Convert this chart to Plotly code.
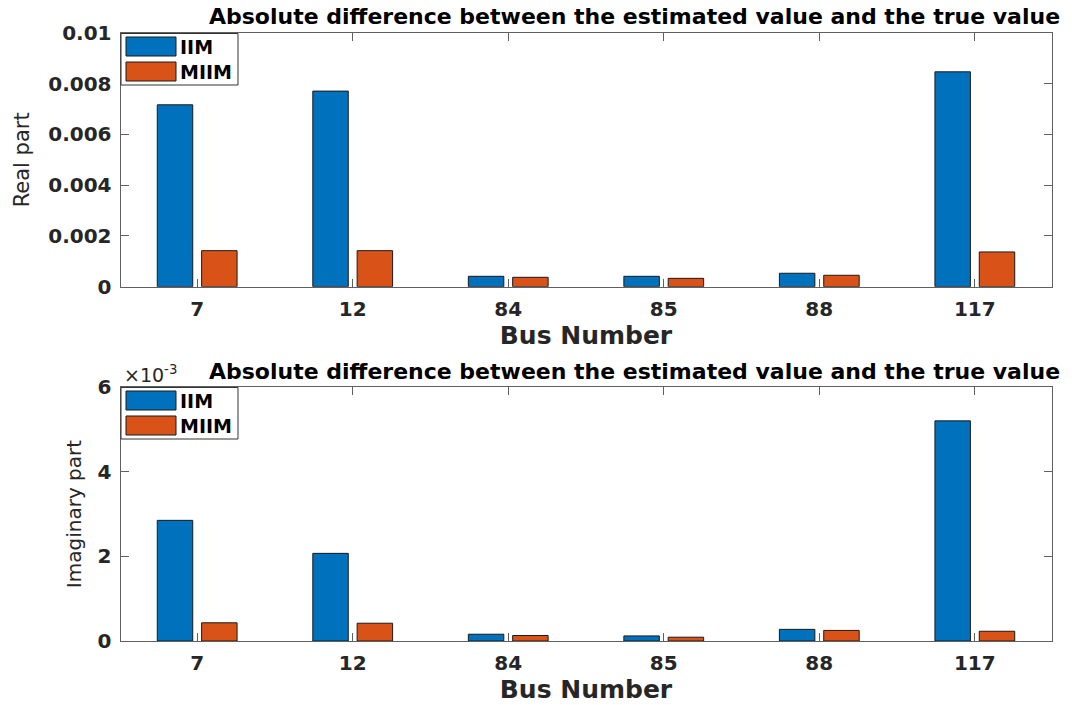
import plotly.graph_objects as go

# Bus numbers and absolute estimation errors
buses = ["7", "12", "84", "85", "88", "117"]
real_iim = [0.00717, 0.00771, 0.00041, 0.00041, 0.00053, 0.00847]
real_miim = [0.00142, 0.00142, 0.00037, 0.00033, 0.00045, 0.00137]
imag_iim = [2.85, 2.07, 0.16, 0.12, 0.275, 5.20]      # x 1e-3
imag_miim = [0.43, 0.42, 0.13, 0.09, 0.25, 0.23]      # x 1e-3

series_names = ["IIM", "MIIM"]
colors = ["#0072BD", "#D95319"]
title_text = "Absolute difference between the estimated value and the true value"

W, H = 1072, 705
FONT = "DejaVu Sans, Liberation Sans, sans-serif"
AX = "#606060"


def px(x):
    return x / W


def py(y):
    return 1 - y / H


fig = go.Figure()
for vals, name, col in zip([real_iim, real_miim], series_names, colors):
    fig.add_trace(go.Bar(x=buses, y=vals, name=name, marker_color=col,
                         marker_line_color="#1a1a1a", marker_line_width=1,
                         xaxis="x", yaxis="y", showlegend=False))
for vals, name, col in zip([imag_iim, imag_miim], series_names, colors):
    fig.add_trace(go.Bar(x=buses, y=vals, name=name, marker_color=col,
                         marker_line_color="#1a1a1a", marker_line_width=1,
                         xaxis="x2", yaxis="y2", showlegend=False))

xdom = [px(120.5), px(1051.5)]
xrange = [-0.493, 5.493]
axis_common = dict(showline=True, linecolor=AX, linewidth=1, mirror="ticks",
                   ticks="inside", ticklen=8, tickcolor=AX, showgrid=False,
                   zeroline=False, automargin=False,
                   tickfont=dict(family=FONT, size=20, color="#262626", weight="bold"))

xtitle = dict(text="<b>Bus Number</b>", font=dict(family=FONT, size=25, color="#262626"),
              standoff=2)

fig.update_layout(
    width=W, height=H,
    margin=dict(l=0, r=0, t=0, b=0),
    paper_bgcolor="white", plot_bgcolor="white",
    barmode="group", bargap=0.43, bargroupgap=0.2,
    font=dict(family=FONT, color="#262626"),
    xaxis=dict(domain=xdom, anchor="y", type="category", range=xrange,
               ticklabelstandoff=4, title=xtitle, **axis_common),
    yaxis=dict(domain=[py(286.7), py(33)], anchor="x", range=[0, 0.01],
               tickvals=[0, 0.002, 0.004, 0.006, 0.008, 0.01],
               ticktext=["0", "0.002", "0.004", "0.006", "0.008", "0.01"],
               ticklabelstandoff=4,
               title=dict(text="Real part", font=dict(family=FONT, size=21, color="#262626"),
                          standoff=12),
               **axis_common),
    xaxis2=dict(domain=xdom, anchor="y2", type="category", range=xrange,
                ticklabelstandoff=4, title=xtitle, **axis_common),
    yaxis2=dict(domain=[py(641), py(387)], anchor="x2", range=[0, 6],
                tickvals=[0, 2, 4, 6],
                ticklabelstandoff=4,
                title=dict(text="Imaginary part", font=dict(family=FONT, size=20, color="#262626"),
                           standoff=10),
                **axis_common),
)

# Panel titles
for ty in [16, 371]:
    fig.add_annotation(x=px(634), y=py(ty), xref="paper", yref="paper",
                       text="<b>" + title_text + "</b>", showarrow=False,
                       font=dict(family=FONT, size=22, color="#000000"),
                       xanchor="center", yanchor="middle")

# Exponent label of the lower y axis
fig.add_annotation(x=px(122), y=py(374), xref="paper", yref="paper",
                   text="\u00d710<sup>-3</sup>", showarrow=False,
                   font=dict(family=FONT, size=19, color="#262626"),
                   xanchor="left", yanchor="middle")

# Legend boxes drawn in each panel's upper-left corner
for top in [33, 387]:
    fig.add_shape(type="rect", xref="paper", yref="paper",
                  x0=px(121), x1=px(238), y0=py(top + 52), y1=py(top + 0.5),
                  line=dict(color="#333333", width=1), fillcolor="white")
    for i, (name, col) in enumerate(zip(series_names, colors)):
        y0 = top + 4 + i * 25
        fig.add_shape(type="rect", xref="paper", yref="paper",
                      x0=px(126), x1=px(176), y0=py(y0 + 19), y1=py(y0),
                      line=dict(color="#1a1a1a", width=1), fillcolor=col)
        fig.add_annotation(x=px(178), y=py(y0 + 10), xref="paper", yref="paper",
                           text="<b>" + name + "</b>", showarrow=False,
                           font=dict(family=FONT, size=19, color="#000000"),
                           xanchor="left", yanchor="middle")

fig.write_html("out.html")
